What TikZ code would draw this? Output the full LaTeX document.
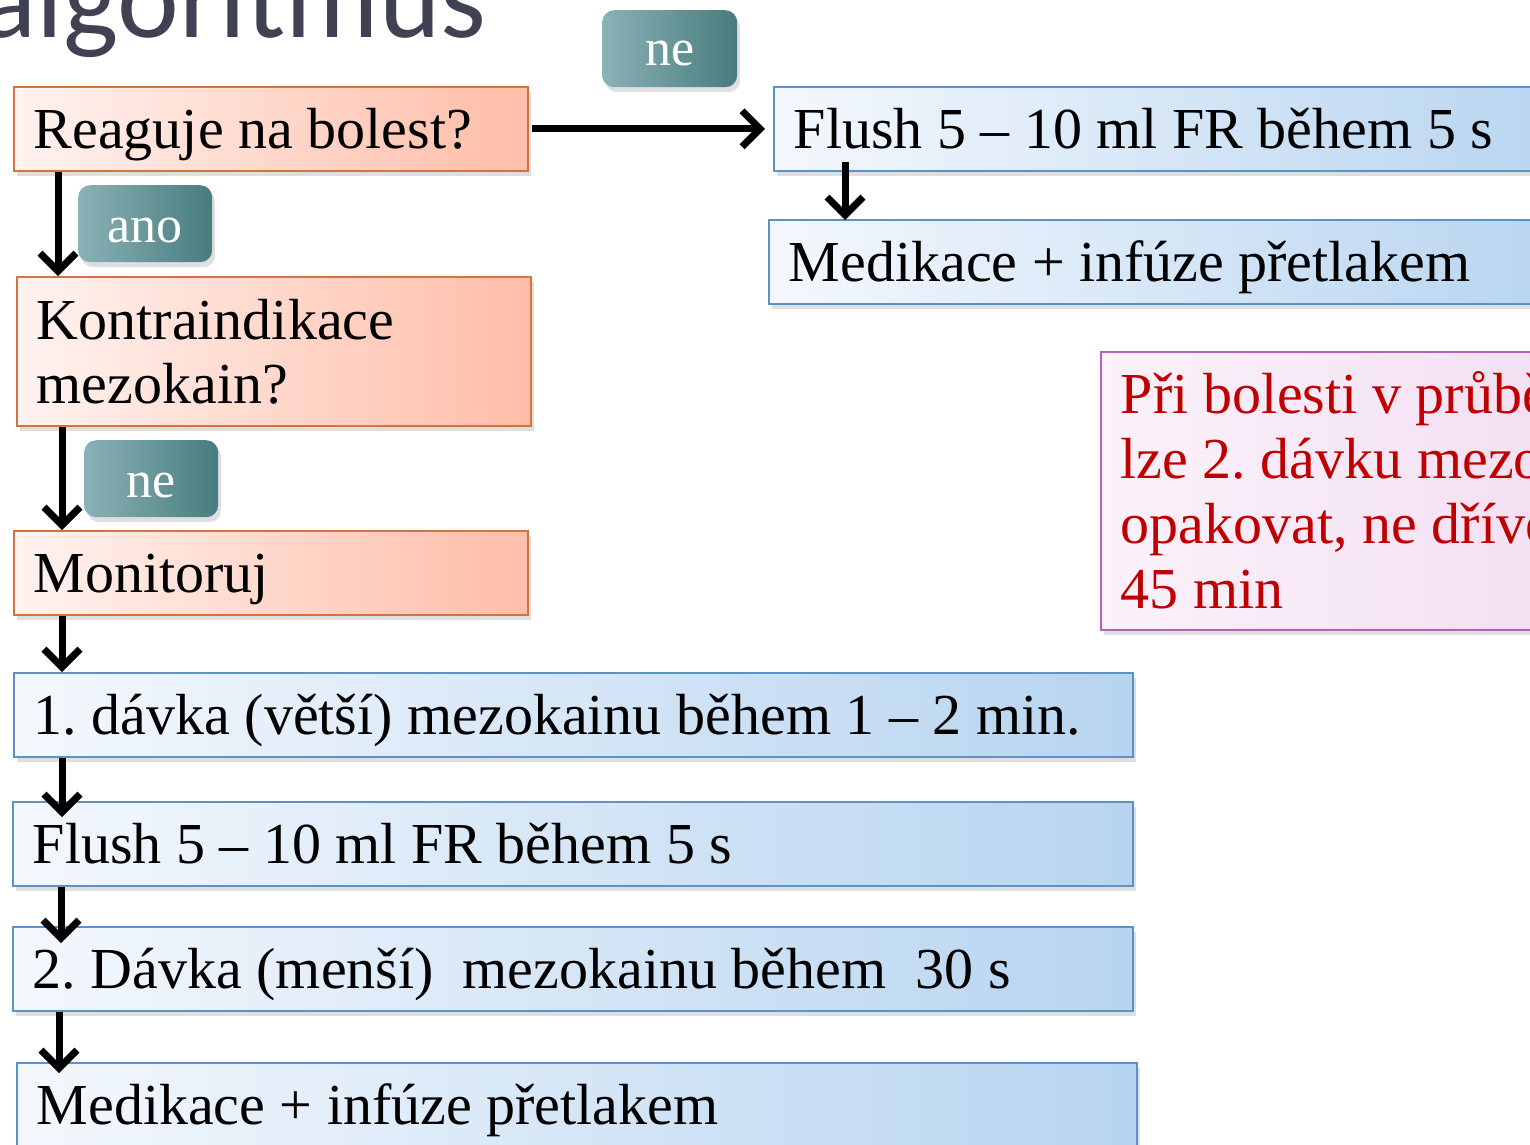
\documentclass[tikz,border=0pt]{standalone}
\usepackage{fontspec}
\setmainfont{Liberation Serif}
\newfontfamily\titlefont{Carlito}
\usepackage{tikz}
\usetikzlibrary{positioning, arrows.meta, shadows}
\usepackage{xcolor}
\frenchspacing

\definecolor{titlegray}{HTML}{404254}
\definecolor{orangeline}{HTML}{D4733F}
\definecolor{orangelight}{HTML}{FFF3F0}
\definecolor{orangedark}{HTML}{FFBDA8}
\definecolor{blueline}{HTML}{5C92C4}
\definecolor{bluelight}{HTML}{F4F8FD}
\definecolor{bluedark}{HTML}{B7D4F0}
\definecolor{teallight}{HTML}{8BB2B6}
\definecolor{tealdark}{HTML}{477C7E}
\definecolor{noteline}{HTML}{B063B8}
\definecolor{notelight}{HTML}{FBF2FA}
\definecolor{notedark}{HTML}{EBCBEB}
\definecolor{notered}{HTML}{C00000}

\tikzset{
    boxshadow/.style={drop shadow={shadow xshift=3pt, shadow yshift=-5pt, opacity=0.25}},
    stepbox/.style={anchor=north west, line width=1.6pt, inner xsep=20pt, inner ysep=0pt,
        align=flush left, text height=40pt, text depth=0pt, minimum height=84pt,
        font=\fontsize{58}{64}\selectfont, boxshadow},
    qbox/.style={stepbox, draw=orangeline, left color=orangelight, right color=orangedark},
    abox/.style={stepbox, draw=blueline, left color=bluelight, right color=bluedark},
    answer/.style={anchor=north west, rounded corners=12pt, left color=teallight,
        right color=tealdark, text=white, font=\fontsize{52}{52}\selectfont,
        inner sep=0pt, minimum width=134pt, minimum height=77pt, text depth=0pt, boxshadow},
    flowarrow/.style={line width=7pt, -{Straight Barb[length=18pt, width=36pt]}},
}

\begin{document}
\begin{tikzpicture}[x=1pt, y=-1pt]
    \useasboundingbox (0,0) rectangle (1530,1144);
    \clip (0,0) rectangle (1530,1144);

    % Slide title, cut off at the top
    \node[anchor=base west, inner sep=0pt, text=titlegray,
        font=\titlefont\fontsize{117}{117}\selectfont] (title) at (-20,37) {algoritmus};

    % Left column: questions
    \node[qbox, text width=474pt] (reaguje) at (13,86) {Reaguje na bolest?};
    \node[qbox, text width=474pt, minimum height=149pt, text depth=64pt] (kontra) at (16,276)
        {Kontraindikace\\mezokain?};
    \node[qbox, text width=474pt] (monitoruj) at (13,530) {Monitoruj};

    % Left column: steps
    \node[abox, text width=1079pt] (davka1) at (13,672) {1. dávka (větší) mezokainu během 1 – 2 min.};
    \node[abox, text width=1080pt] (flush) at (12,801) {Flush 5 – 10 ml FR během 5 s};
    \node[abox, text width=1080pt] (davka2) at (12,926) {2. Dávka (menší)\ \ mezokainu během\ \ 30 s};
    \node[abox, text width=1080pt] (medikace) at (16,1062) {Medikace + infúze přetlakem};

    % Right column
    \node[abox, text width=760pt] (flushR) at (773,86) {Flush 5 – 10 ml FR během 5 s};
    \node[abox, text width=760pt] (medR) at (768,219) {Medikace + infúze přetlakem};

    % Note
    \node[stepbox, draw=noteline, left color=notelight, right color=notedark, text=notered,
        text width=900pt, minimum height=278pt, text depth=195pt,
        font=\fontsize{58}{65}\selectfont] (note) at (1100,351)
        {Při bolesti v průběhu\\lze 2. dávku mezokainu\\opakovat, ne dříve než za\\45 min};

    % Answers
    \node[answer, minimum width=135pt, text height=34pt] (neTop) at (602,10) {ne};
    \node[answer, text height=37pt] (ano) at (78,185) {ano};
    \node[answer, text height=37pt] (neMid) at (84,440) {ne};

    % Connectors
    \draw[flowarrow] ([xshift=45pt]reaguje.south west) -- ([xshift=42pt]kontra.north west);
    \draw[flowarrow] ([xshift=46pt]kontra.south west) -- ([xshift=49pt]monitoruj.north west);
    \draw[flowarrow] ([xshift=49pt]monitoruj.south west) -- ([xshift=49pt]davka1.north west);
    \draw[flowarrow] ([xshift=49pt]davka1.south west) -- ([xshift=50pt, yshift=-16pt]flush.north west);
    \draw[flowarrow] ([xshift=49pt]flush.south west) -- ([xshift=49pt, yshift=-17pt]davka2.north west);
    \draw[flowarrow] ([xshift=47pt]davka2.south west) -- ([xshift=43pt, yshift=-11pt]medikace.north west);
    \draw[flowarrow] ([xshift=3pt]reaguje.east) -- ([xshift=-8pt]flushR.west);
    \draw[flowarrow] ([xshift=72pt, yshift=10pt]flushR.south west) -- ([xshift=77pt, yshift=-1pt]medR.north west);
\end{tikzpicture}
\end{document}
